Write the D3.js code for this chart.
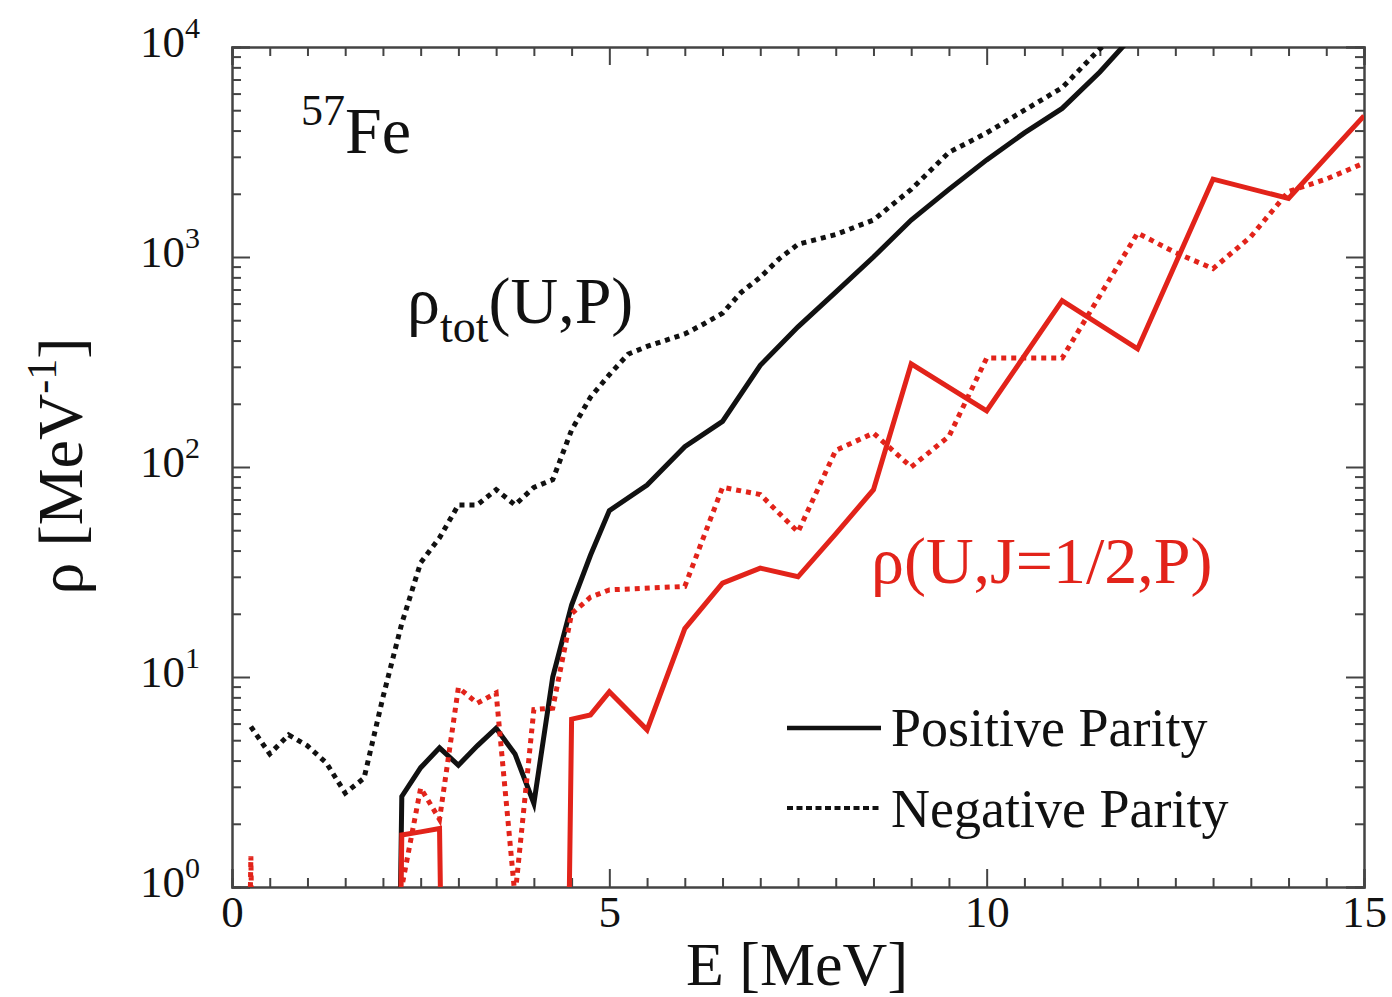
<!DOCTYPE html>
<html>
<head>
<meta charset="utf-8">
<script src="https://cdn.jsdelivr.net/npm/d3@7"></script>
<style>
  body { margin: 0; background: #fff; }
  svg { display: block; font-family: "Liberation Serif", "DejaVu Serif", serif; }
  .axis path, .axis line { stroke: #444; stroke-width: 2; }
</style>
</head>
<body>
<svg width="1392" height="997"></svg>
<script>
// energies [MeV] and level densities [MeV^-1]; 0 means no states
const negTotE   = [0.25, 0.5, 0.75, 1.0, 1.25, 1.5, 1.75, 2.0, 2.25, 2.5, 2.75, 3.0, 3.25, 3.5, 3.75, 4.0, 4.25, 4.5, 4.75, 5.0, 5.25, 5.5, 6.0, 6.25, 6.5, 6.75, 7.0, 7.25, 7.5, 8.0, 8.5, 9.0, 9.5, 10.0, 10.5, 11.0, 11.5, 12.0];
const negTotRho = [5.8, 4.3, 5.3, 4.7, 3.9, 2.8, 3.3, 8.0, 18, 35, 46, 66, 66, 78, 66, 80, 87, 150, 215, 275, 345, 375, 430, 480, 540, 680, 800, 980, 1150, 1280, 1500, 2100, 3150, 3900, 5000, 6400, 9800, 14000];

const posTotE   = [2.0, 2.25, 2.5, 2.75, 3.0, 3.25, 3.5, 3.75, 4.0, 4.25, 4.5, 4.75, 5.0, 5.5, 6.0, 6.5, 7.0, 7.5, 8.0, 8.5, 9.0, 9.5, 10.0, 10.5, 11.0, 11.5, 12.0];
const posTotRho = [0, 2.7, 3.7, 4.6, 3.8, 4.7, 5.7, 4.3, 2.5, 10, 22, 38, 62, 82, 125, 165, 305, 465, 680, 1000, 1500, 2100, 2900, 3900, 5100, 7600, 12000];

const posHalfE   = [2.0, 2.25, 2.5, 2.75, 3.0, 4.25, 4.5, 4.75, 5.0, 5.5, 6.0, 6.5, 7.0, 7.5, 8.0, 8.5, 9.0, 10.0, 11.0, 12.0, 13.0, 14.0, 15.0];
const posHalfRho = [0, 1.77, 1.83, 1.9, 0, 0, 6.3, 6.6, 8.5, 5.6, 17, 28, 33, 30, 48, 78, 310, 185, 620, 365, 2350, 1900, 4700];

const negHalfE   = [0, 0.25, 0.5, 2.0, 2.25, 2.5, 2.75, 3.0, 3.25, 3.5, 3.75, 4.0, 4.25, 4.5, 4.75, 5.0, 6.0, 6.5, 7.0, 7.5, 8.0, 8.5, 9.0, 9.5, 10.0, 11.0, 12.0, 12.5, 13.0, 13.5, 14.0, 14.5, 15.0];
const negHalfRho = [0, 1.4, 0, 0, 1.0, 2.96, 2.1, 8.9, 7.5, 8.4, 0.9, 7.0, 7.1, 20, 24, 26, 27, 80, 74, 49, 120, 145, 100, 140, 330, 330, 1300, 1050, 880, 1250, 2050, 2350, 2800];

const xMajor = [0, 5, 10, 15];
const yMajor = [1, 10, 100, 1000, 10000];

const svg = d3.select("svg");
const margin = { left: 232, top: 47, right: 28, bottom: 110 };
const W = 1392 - margin.left - margin.right;
const H = 997 - margin.top - margin.bottom;
const red = "#e2231a";

const x = d3.scaleLinear().domain([0, 15]).range([0, W]);
const y = d3.scaleLog().domain([1, 1e4]).range([H, 0]);

const g = svg.append("g").attr("transform", `translate(${margin.left},${margin.top})`);

svg.append("defs").append("clipPath").attr("id", "plotClip")
   .append("rect").attr("width", W).attr("height", H);

// minor ticks
const xMinor = d3.range(0, 15.01, 0.5).filter(v => v % 5 !== 0);
const yMinor = [];
for (let p = 0; p < 4; p++)
    for (let m = 2; m <= 9; m++) yMinor.push(m * Math.pow(10, p));

const noLabel = () => "";
g.append("g").attr("class", "axis").attr("transform", `translate(0,${H})`)
 .call(d3.axisBottom(x).tickValues(xMinor).tickSize(-9).tickFormat(noLabel));
g.append("g").attr("class", "axis")
 .call(d3.axisTop(x).tickValues(xMinor).tickSize(-9).tickFormat(noLabel));
g.append("g").attr("class", "axis")
 .call(d3.axisLeft(y).tickValues(yMinor).tickSize(-9).tickFormat(noLabel));
g.append("g").attr("class", "axis").attr("transform", `translate(${W},0)`)
 .call(d3.axisRight(y).tickValues(yMinor).tickSize(-9).tickFormat(noLabel));

// major ticks
const xAxis = g.append("g").attr("class", "axis").attr("transform", `translate(0,${H})`)
 .call(d3.axisBottom(x).tickValues(xMajor).tickSize(-18).tickPadding(8).tickFormat(d3.format("d")));
g.append("g").attr("class", "axis")
 .call(d3.axisTop(x).tickValues(xMajor).tickSize(-18).tickFormat(noLabel));
const yAxis = g.append("g").attr("class", "axis")
 .call(d3.axisLeft(y).tickValues(yMajor).tickSize(-18).tickPadding(32).tickFormat(noLabel));
g.append("g").attr("class", "axis").attr("transform", `translate(${W},0)`)
 .call(d3.axisRight(y).tickValues(yMajor).tickSize(-18).tickFormat(noLabel));

xAxis.selectAll("text").attr("font-size", 45).attr("font-family", "Liberation Serif").attr("fill", "#111");
yAxis.selectAll("text")
     .attr("font-size", 45).attr("font-family", "Liberation Serif").attr("fill", "#111").attr("dy", "0.2em")
     .each(function(d) {
         const t = d3.select(this);
         t.append("tspan").text("10");
         t.append("tspan").attr("dy", -19).attr("font-size", 30).text(Math.round(Math.log10(d)));
     });

// curves
const line = d3.line()
    .x(d => x(d[0]))
    .y(d => y(Math.max(d[1], 1e-6)));

const curves = g.append("g").attr("clip-path", "url(#plotClip)");
const series = [
    { e: negTotE, r: negTotRho, color: "#111", dash: "5 5" },
    { e: posTotE, r: posTotRho, color: "#111", dash: null },
    { e: negHalfE, r: negHalfRho, color: red, dash: "5 5" },
    { e: posHalfE, r: posHalfRho, color: red, dash: null }
];
series.forEach(s => {
    curves.append("path")
        .datum(d3.zip(s.e, s.r))
        .attr("d", line)
        .attr("fill", "none")
        .attr("stroke", s.color)
        .attr("stroke-width", 5)
        .attr("stroke-dasharray", s.dash);
});

// axis titles
svg.append("text").attr("x", 797).attr("y", 985).attr("text-anchor", "middle")
   .attr("font-size", 62).attr("fill", "#111").text("E [MeV]");

const yTitle = svg.append("text").attr("transform", "translate(82,466) rotate(-90)")
   .attr("text-anchor", "middle").attr("font-size", 64).attr("fill", "#111");
yTitle.append("tspan").text("ρ [MeV");
yTitle.append("tspan").attr("dy", -26).attr("font-size", 42).text("-1");
yTitle.append("tspan").attr("dy", 26).text("]");

// annotations
const fe = svg.append("text").attr("x", 301).attr("y", 153).attr("fill", "#111");
fe.append("tspan").attr("dy", -28).attr("font-size", 44).text("57");
fe.append("tspan").attr("dy", 28).attr("font-size", 66).text("Fe");

const tot = svg.append("text").attr("x", 407).attr("y", 323).attr("fill", "#111").attr("font-size", 66);
tot.append("tspan").text("ρ");
tot.append("tspan").attr("dy", 19).attr("font-size", 46).text("tot");
tot.append("tspan").attr("dy", -19).text("(U,P)");

svg.append("text").attr("x", 871).attr("y", 583).attr("fill", red).attr("font-size", 66)
   .text("ρ(U,J=1/2,P)");

// legend
const legend = [
    { label: "Positive Parity", dash: null, width: 4.5, ly: 728, ty: 746 },
    { label: "Negative Parity", dash: "6 3.5", width: 4, ly: 808, ty: 827 }
];
const lg = svg.append("g");
legend.forEach(l => {
    lg.append("line").attr("x1", 787).attr("x2", 881).attr("y1", l.ly).attr("y2", l.ly)
      .attr("stroke", "#111").attr("stroke-width", l.width).attr("stroke-dasharray", l.dash);
    lg.append("text").attr("x", 891).attr("y", l.ty).attr("font-size", 54).attr("fill", "#111").text(l.label);
});
</script>
</body>
</html>
